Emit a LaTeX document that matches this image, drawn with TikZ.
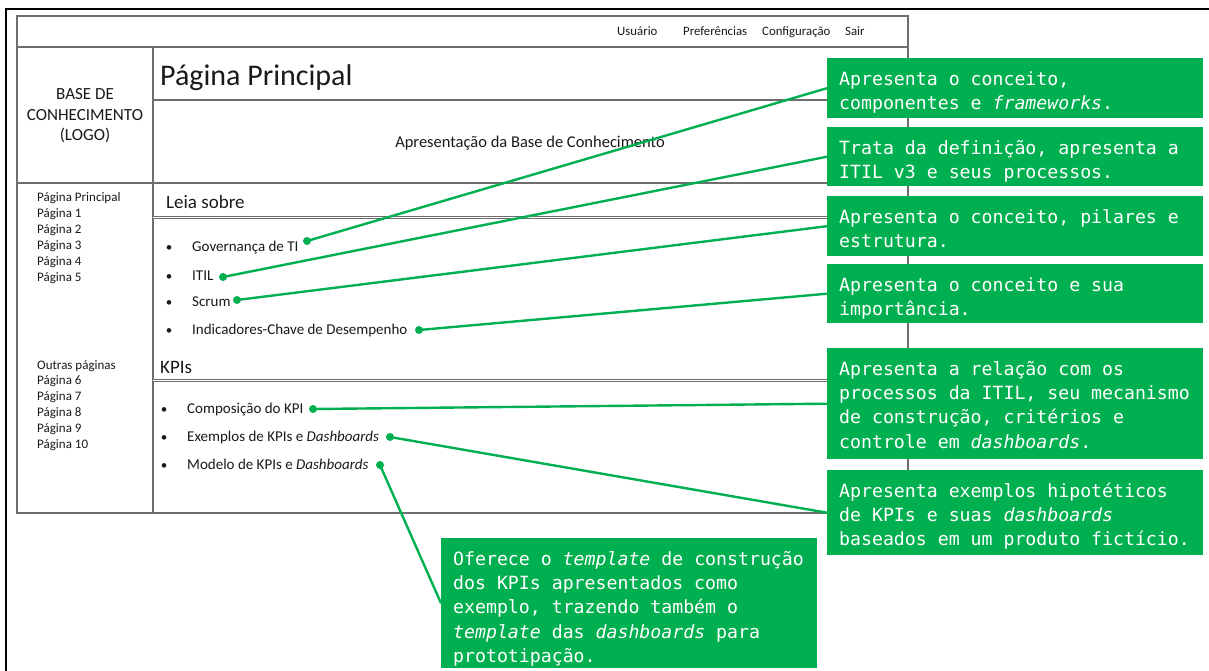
\documentclass[tikz,border=0pt]{standalone}
\usepackage{fontspec}
\setmainfont{Carlito}
\newfontfamily\calloutfont{DejaVu Sans Mono}
\definecolor{kbgreen}{HTML}{00B050}
\definecolor{wireline}{HTML}{6E6E6E}
\definecolor{inktext}{HTML}{1A1A1A}

\begin{document}
\begin{tikzpicture}[x=1pt,y=-1pt,
  wire/.style={draw=wireline, line width=1.3pt},
  wiredouble/.style={draw=wireline, line width=0.9pt, double=white, double distance=1.3pt},
  ink/.style={inner sep=0pt, text=inktext},
  topitem/.style={ink, anchor=base west, font=\fontsize{12.8}{15}\selectfont},
  navitem/.style={ink, anchor=base west, font=\fontsize{13}{15}\selectfont},
  section/.style={ink, anchor=base west, font=\fontsize{19}{22}\selectfont},
  item/.style={ink, anchor=base west, font=\fontsize{15}{18}\selectfont},
  bulletmark/.style={ink, anchor=base, font=\fontsize{13}{18}\selectfont},
  cbox/.style={fill=kbgreen, draw=none, minimum width=376pt, anchor=north west, inner sep=0pt},
  ctext/.style={anchor=north west, inner sep=0pt, align=left, text=white,
    font=\calloutfont\fontsize{18.2}{24.3}\selectfont},
  link/.style={draw=kbgreen, line width=2.4pt},
  pin/.style={fill=kbgreen}
]
\useasboundingbox (0,0) rectangle (1209,671);
\fill[white] (0,0) rectangle (1209,671);

% outer frame
\draw[line width=2pt, black] (6,671) -- (6,9) -- (1209,9);

% wireframe of the page
\draw[wire] (17,16) rectangle (908,513);
\draw[wire] (17,47) -- (908,47);
\draw[wire] (17,183) -- (908,183);
\draw[wire] (153,47) -- (153,513);
\draw[wire] (153,100) -- (908,100);
\draw[wiredouble] (153,217.5) -- (908,217.5);
\draw[wiredouble] (153,380.5) -- (908,380.5);

% top bar
\node[topitem] (usr) at (617,36) {Usuário};
\node[topitem] (pref) at (683,36) {Preferências};
\node[topitem] (conf) at (762,36) {Configuração};
\node[topitem] (sair) at (845,36) {Sair};

% logo and header
\node[ink, align=center, font=\fontsize{17}{20.5}\selectfont] (logo) at (85,116) {BASE DE\\CONHECIMENTO\\(LOGO)};
\node[ink, anchor=base west, font=\fontsize{30}{35}\selectfont] (title) at (160,86) {Página Principal};
\node[ink, anchor=base, font=\fontsize{16.5}{20}\selectfont] (intro) at (530,148) {Apresentação da Base de Conhecimento};

% navigation
\node[navitem] (n0) at (37,201) {Página Principal};
\node[navitem] (n1) at (37,217) {Página 1};
\node[navitem] (n2) at (37,233) {Página 2};
\node[navitem] (n3) at (37,249) {Página 3};
\node[navitem] (n4) at (37,265) {Página 4};
\node[navitem] (n5) at (37,281) {Página 5};
\node[navitem] (m0) at (37,369) {Outras páginas};
\node[navitem] (m1) at (37,384.8) {Página 6};
\node[navitem] (m2) at (37,400.6) {Página 7};
\node[navitem] (m3) at (37,416.4) {Página 8};
\node[navitem] (m4) at (37,432.2) {Página 9};
\node[navitem] (m5) at (37,448) {Página 10};

% section: Leia sobre
\node[section] (leia) at (166,208) {Leia sobre};
\foreach \yy in {251,280,306,334} {\node[bulletmark] at (169,\yy) {•};}
\node[item] (gov) at (192,251) {Governança de TI};
\node[item] (itil) at (192,280) {ITIL};
\node[item] (scrum) at (192,306) {Scrum};
\node[item] (ind) at (192,334) {Indicadores-Chave de Desempenho};

% section: KPIs
\node[section] (kpis) at (160,373) {KPIs};
\foreach \yy in {413,441,469} {\node[bulletmark] at (164,\yy) {•};}
\node[item] (comp) at (187,413) {Composição do KPI};
\node[item] (exem) at (187,441) {Exemplos de KPIs e \textit{Dashboards}};
\node[item] (mod) at (187,469) {Modelo de KPIs e \textit{Dashboards}};

% anchor points next to the items
\coordinate (d1) at (307,241);
\coordinate (d2) at (223,277);
\coordinate (d3) at (237,300);
\coordinate (d4) at (419,330);
\coordinate (d5) at (313,409);
\coordinate (d6) at (390,437);
\coordinate (d7) at (380,465);

% callout boxes
\node[cbox, minimum height=60pt] (c1) at (827,58) {};
\node[cbox, minimum height=59pt] (c2) at (827,127) {};
\node[cbox, minimum height=60pt] (c3) at (827,196) {};
\node[cbox, minimum height=59pt] (c4) at (827,264) {};
\node[cbox, minimum height=111pt] (c5) at (827,348) {};
\node[cbox, minimum height=85pt] (c6) at (827,470) {};
\node[cbox, minimum height=130pt] (c7) at (441,538) {};

% connectors
\draw[link] (d1) -- (c1.west);
\draw[link] (d2) -- (c2.west);
\draw[link] (d3) -- (c3.west);
\draw[link] (d4) -- (c4.west);
\draw[link] (d5) -- (c5.west);
\draw[link] (d6) -- (c6.west);
\draw[link] (d7) -- (c7.west);
\foreach \p in {d1,d2,d3,d4,d5,d6,d7} {\fill[pin] (\p) circle (4pt);}

% callout texts
\node[ctext] (t1) at ([xshift=12pt,yshift=-10pt]c1.north west) {\strut Apresenta o conceito,\\componentes e \textit{frameworks}.};
\node[ctext] (t2) at ([xshift=12pt,yshift=-10pt]c2.north west) {\strut Trata da definição, apresenta a\\ITIL v3 e seus processos.};
\node[ctext] (t3) at ([xshift=12pt,yshift=-10pt]c3.north west) {\strut Apresenta o conceito, pilares e\\estrutura.};
\node[ctext] (t4) at ([xshift=12pt,yshift=-10pt]c4.north west) {\strut Apresenta o conceito e sua\\importância.};
\node[ctext] (t5) at ([xshift=12pt,yshift=-10pt]c5.north west) {\strut Apresenta a relação com os\\processos da ITIL, seu mecanismo\\de construção, critérios e\\controle em \textit{dashboards}.};
\node[ctext] (t6) at ([xshift=12pt,yshift=-10pt]c6.north west) {\strut Apresenta exemplos hipotéticos\\de KPIs e suas \textit{dashboards}\\baseados em um produto fictício.};
\node[ctext] (t7) at ([xshift=12pt,yshift=-10pt]c7.north west) {\strut Oferece o \textit{template} de construção\\dos KPIs apresentados como\\exemplo, trazendo também o\\\textit{template} das \textit{dashboards} para\\prototipação.};
\end{tikzpicture}
\end{document}
